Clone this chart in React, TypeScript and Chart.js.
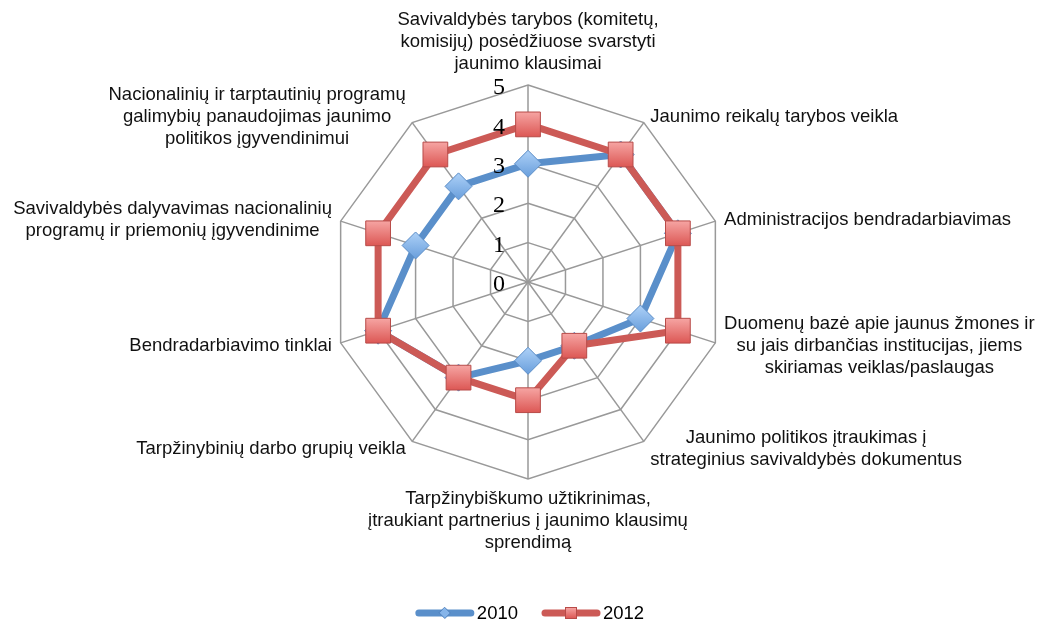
import React, { useEffect, useRef } from 'react';
import { Chart, registerables } from 'chart.js';

Chart.register(...registerables);

const categories: string[][] = [
  ['Savivaldybės tarybos (komitetų,', 'komisijų) posėdžiuose svarstyti', 'jaunimo klausimai'],
  ['Jaunimo reikalų tarybos veikla'],
  ['Administracijos bendradarbiavimas'],
  ['Duomenų bazė apie jaunus žmones ir', 'su jais dirbančias institucijas, jiems', 'skiriamas veiklas/paslaugas'],
  ['Jaunimo politikos įtraukimas į', 'strateginius savivaldybės dokumentus'],
  ['Tarpžinybiškumo užtikrinimas,', 'įtraukiant partnerius į jaunimo klausimų', 'sprendimą'],
  ['Tarpžinybinių darbo grupių veikla'],
  ['Bendradarbiavimo tinklai'],
  ['Savivaldybės dalyvavimas nacionalinių', 'programų ir priemonių įgyvendinime'],
  ['Nacionalinių ir tarptautinių programų', 'galimybių panaudojimas jaunimo', 'politikos įgyvendinimui'],
];

const values2010 = [3, 4, 4, 3, 2, 2, 3, 4, 3, 3];
const values2012 = [4, 4, 4, 4, 2, 3, 3, 4, 4, 4];
const seriesNames = ['2010', '2012'];
const tickValues = [0, 1, 2, 3, 4, 5];

const BLUE = '#5a8fca';
const RED = '#cc5a56';
const GRID = '#999999';
const LABEL_FONT = '18.5px "Liberation Sans", Arial, Helvetica, sans-serif';
const TICK_FONT = '24px "Liberation Serif", "Times New Roman", serif';

function gradFill(top: string, bottom: string, half: number, fallback: string) {
  return (c: any) => {
    const chart = c.chart;
    const r: any = chart && chart.scales ? chart.scales.r : null;
    if (!r || c.type !== 'data' || typeof r.drawingArea !== 'number' || !isFinite(r.xCenter)) return fallback;
    const p = r.getPointPositionForValue(c.dataIndex, c.raw);
    const g = chart.ctx.createLinearGradient(0, p.y - half, 0, p.y + half);
    g.addColorStop(0, top);
    g.addColorStop(1, bottom);
    return g;
  };
}

const labelsPlugin = {
  id: 'customLabels',
  afterDatasetsDraw(chart: any) {
    const r: any = chart.scales.r;
    const ctx: CanvasRenderingContext2D = chart.ctx;
    ctx.save();
    ctx.font = TICK_FONT;
    ctx.fillStyle = '#000';
    ctx.textAlign = 'right';
    ctx.textBaseline = 'middle';
    tickValues.forEach((v) => {
      const d = r.getDistanceFromCenterForValue(v);
      ctx.fillText(String(v), r.xCenter - 23, r.yCenter - d + 3);
    });
    ctx.restore();
  },
  afterDraw(chart: any) {
    const r: any = chart.scales.r;
    const ctx: CanvasRenderingContext2D = chart.ctx;
    ctx.save();
    ctx.font = LABEL_FONT;
    ctx.fillStyle = '#111';
    ctx.textBaseline = 'middle';
    ctx.textAlign = 'center';
    const lh = 22;
    const n = categories.length;
    categories.forEach((lines, i) => {
      const p = r.getPointPosition(i, r.drawingArea);
      const ang = (i / n) * 2 * Math.PI;
      const sinA = Math.sin(ang);
      const cosA = Math.cos(ang);
      const w = Math.max(...lines.map((l) => ctx.measureText(l).width));
      const h = lines.length * lh;
      let cx: number;
      let cy: number;
      if (Math.abs(sinA) < 1e-6) {
        cx = p.x;
        cy = cosA > 0 ? p.y - 10 - h / 2 : p.y + 9 + h / 2;
      } else {
        const gap = 3 + 6 * Math.abs(sinA);
        cx = sinA > 0 ? p.x + gap + w / 2 : p.x - gap - w / 2;
        cy = p.y - 8 * cosA + 1;
      }
      lines.forEach((l, k) => ctx.fillText(l, cx, cy - h / 2 + lh / 2 + k * lh));
    });

    // legend
    const items = [
      { name: seriesNames[0], color: BLUE, marker: 'diamond' },
      { name: seriesNames[1], color: RED, marker: 'square' },
    ];
    ctx.font = '18.5px "Liberation Sans", Arial, Helvetica, sans-serif';
    ctx.textAlign = 'left';
    const sample = 58;
    const gapText = 3;
    const gapItems = 24;
    const widths = items.map((it) => sample + gapText + ctx.measureText(it.name).width);
    const total = widths.reduce((a, b) => a + b, 0) + gapItems;
    let x = r.xCenter + 2 - total / 2;
    const y = 613;
    items.forEach((it, k) => {
      ctx.strokeStyle = it.color;
      ctx.lineWidth = 7;
      ctx.lineCap = 'round';
      ctx.beginPath();
      ctx.moveTo(x + 3, y);
      ctx.lineTo(x + sample - 3, y);
      ctx.stroke();
      const mx = x + sample / 2;
      if (it.marker === 'diamond') {
        ctx.fillStyle = '#86b5ea';
        ctx.strokeStyle = '#4f81bd';
        ctx.lineWidth = 1;
        ctx.beginPath();
        ctx.moveTo(mx, y - 5.5);
        ctx.lineTo(mx + 5.5, y);
        ctx.lineTo(mx, y + 5.5);
        ctx.lineTo(mx - 5.5, y);
        ctx.closePath();
        ctx.fill();
        ctx.stroke();
      } else {
        const g = ctx.createLinearGradient(0, y - 5.5, 0, y + 5.5);
        g.addColorStop(0, '#f6a5a3');
        g.addColorStop(1, '#dc5754');
        ctx.fillStyle = g;
        ctx.strokeStyle = '#b84b48';
        ctx.lineWidth = 1;
        ctx.fillRect(mx - 5.5, y - 5.5, 11, 11);
        ctx.strokeRect(mx - 5.5, y - 5.5, 11, 11);
      }
      ctx.fillStyle = '#000';
      ctx.fillText(it.name, x + sample + gapText, y + 1);
      x += widths[k] + gapItems;
    });
    ctx.restore();
  },
};

export default function App() {
  const canvasRef = useRef<HTMLCanvasElement | null>(null);

  useEffect(() => {
    document.body.style.margin = '0';
    const canvas = canvasRef.current;
    if (!canvas) return;
    const chart = new Chart(canvas, {
      type: 'radar',
      data: {
        labels: categories.map((c) => c.join(' ')),
        datasets: [
          {
            label: seriesNames[0],
            data: values2010,
            borderColor: BLUE,
            backgroundColor: BLUE,
            borderWidth: 7,
            borderJoinStyle: 'round',
            fill: false,
            pointStyle: 'rectRot',
            pointRadius: 13.5,
            pointBackgroundColor: gradFill('#acd0f7', '#6a9fdc', 13, '#86b5ea'),
            pointBorderColor: '#5a8cc6',
            pointBorderWidth: 1,
            order: 1,
          },
          {
            label: seriesNames[1],
            data: values2012,
            borderColor: RED,
            backgroundColor: RED,
            borderWidth: 7,
            borderJoinStyle: 'round',
            fill: false,
            pointStyle: 'rect',
            pointRadius: 17.5,
            pointBackgroundColor: gradFill('#f6a5a3', '#dc5754', 12.5, '#ea7470'),
            pointBorderColor: '#b84b48',
            pointBorderWidth: 1,
            order: 0,
          },
        ],
      } as any,
      options: {
        responsive: false,
        animation: false,
        events: [],
        layout: { padding: { left: 16, right: 0, top: 85, bottom: 144 } },
        plugins: {
          legend: { display: false },
          tooltip: { enabled: false },
        },
        elements: { line: { tension: 0 } },
        scales: {
          r: {
            min: 0,
            max: 5,
            ticks: { display: false, stepSize: 1 },
            pointLabels: { display: false },
            grid: { color: GRID, lineWidth: 1.5 },
            angleLines: { color: GRID, lineWidth: 1.5 },
          },
        },
      } as any,
      plugins: [labelsPlugin],
    });
    return () => chart.destroy();
  }, []);

  return (
    <div style={{ width: 1041, height: 623 }}>
      <canvas ref={canvasRef} width={1041} height={623} style={{ display: 'block' }} />
    </div>
  );
}
